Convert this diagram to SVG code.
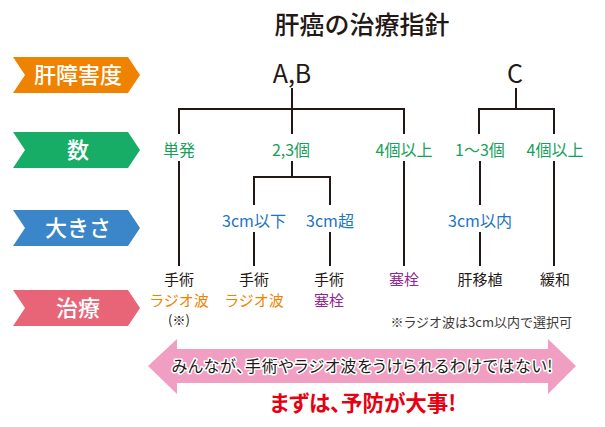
<svg xmlns="http://www.w3.org/2000/svg" width="605" height="427" viewBox="0 0 605 427">
<style>
text{font-family:"Noto Sans CJK JP","Noto Sans",sans-serif;text-anchor:middle}
.title{font-size:25px;font-weight:500;fill:#231815}
.band{font-size:22px;font-weight:500;fill:#fff}
.grade{font-size:25px;fill:#231815}
.num{font-size:16px;fill:#17a05a}
.size{font-size:16px;fill:#1d75c4}
.tr{font-size:15px;fill:#231815}
.rf{font-size:15px;fill:#f08300}
.em{font-size:15px;fill:#93268f}
.note{font-size:13px;fill:#3e3a39;text-anchor:end}
.msg{font-size:16px;fill:#231815;stroke:#fff;stroke-width:3;paint-order:stroke;stroke-linejoin:round;font-feature-settings:"palt"}
.slogan{font-size:21.5px;font-weight:700;fill:#e60012;font-feature-settings:"palt"}
.ln{stroke:#231815;stroke-width:2;fill:none}
</style>
<text class="title" x="362" y="34">肝癌の治療指針</text>
<g id="band-grade"><polygon points="13,57 128,57 140,75 128,93 13,93 25,75" fill="#ef8200"/><text class="band" x="78" y="83">肝障害度</text></g>
<g id="band-count"><polygon points="13,132 128,132 140,150 128,168 13,168 25,150" fill="#17ad67"/><text class="band" x="78" y="158">数</text></g>
<g id="band-size"><polygon points="13,210 128,210 140,228 128,246 13,246 25,228" fill="#3a86c8"/><text class="band" x="78" y="236">大きさ</text></g>
<g id="band-treat"><polygon points="13,290 128,290 140,308 128,326 13,326 25,308" fill="#e86577"/><text class="band" x="78" y="316">治療</text></g>
<g id="connectors">
<path class="ln" d="M292,88V134M179,134V109H404V134"/>
<path class="ln" d="M516,88V109M479,134V109H554V134"/>
<path class="ln" d="M179,161V266M404,161V266M554,161V266"/>
<path class="ln" d="M292,161V177M254,205V177H330V205M254,232V266M330,232V266"/>
<path class="ln" d="M480,161V205M480,232V266"/>
</g>
<g id="n-ab"><text class="grade" x="292" y="83">A,B</text></g>
<g id="n-c"><text class="grade" x="515" y="83">C</text></g>
<g id="n-single"><text class="num" x="179" y="156">単発</text></g>
<g id="n-23"><text class="num" x="291" y="156">2,3個</text></g>
<g id="n-4ab"><text class="num" x="404" y="156">4個以上</text></g>
<g id="n-13"><text class="num" x="480" y="156">1～3個</text></g>
<g id="n-4c"><text class="num" x="555" y="156">4個以上</text></g>
<g id="n-le3"><text class="size" x="254" y="227">3cm以下</text></g>
<g id="n-gt3"><text class="size" x="330" y="227">3cm超</text></g>
<g id="n-in3"><text class="size" x="480" y="227">3cm以内</text></g>
<g id="t1"><text class="tr" x="179" y="285">手術</text><text class="rf" x="179" y="306">ラジオ波</text><text class="tr" x="179" y="325" style="font-size:13px">(※)</text></g>
<g id="t2"><text class="tr" x="254" y="285">手術</text><text class="rf" x="254" y="306">ラジオ波</text></g>
<g id="t3"><text class="tr" x="329" y="285">手術</text><text class="em" x="329" y="306">塞栓</text></g>
<g id="t4"><text class="em" x="404" y="285">塞栓</text></g>
<g id="t5"><text class="tr" x="480" y="285">肝移植</text></g>
<g id="t6"><text class="tr" x="555" y="285">緩和</text></g>
<text class="note" x="572" y="327">※ラジオ波は3cm以内で選択可</text>
<polygon points="148,366 177,339 177,349 548,349 548,339 576,366 548,394 548,383 177,383 177,394" fill="#f09fc3"/>
<text class="msg" x="362" y="372" textLength="381" lengthAdjust="spacing">みんなが、手術やラジオ波をうけられるわけではない!</text>
<text class="slogan" x="363" y="411">まずは、予防が大事!</text>
</svg>
